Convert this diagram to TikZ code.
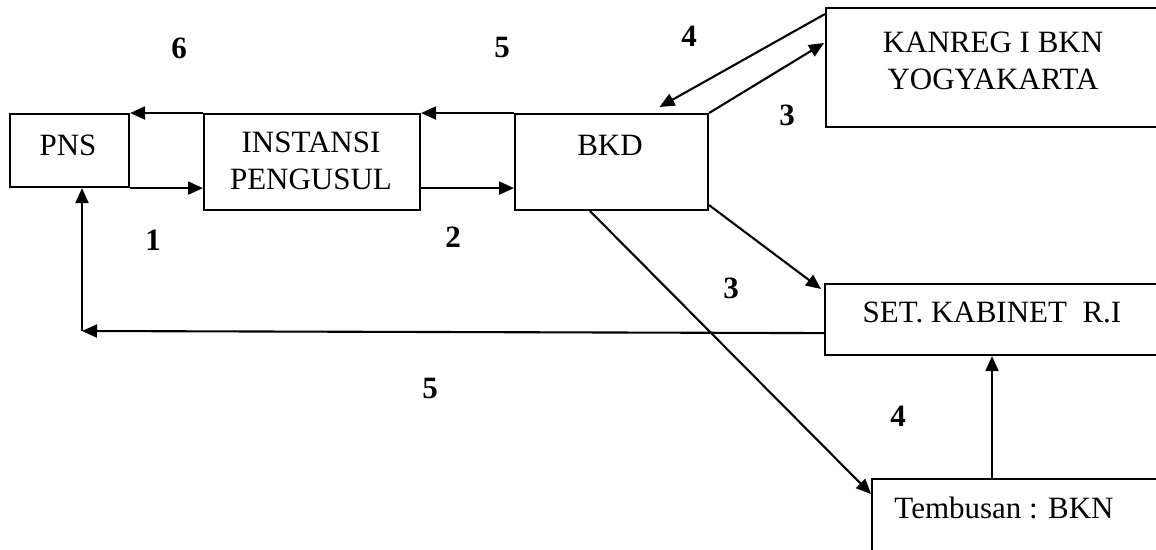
\documentclass[tikz,border=0pt]{standalone}
\usepackage{fontspec}
\setmainfont{Liberation Serif}
\usetikzlibrary{arrows.meta,calc}
\tikzset{
  box/.style={draw, line width=2.1pt, anchor=north west, inner sep=0pt},
  txt/.style={inner sep=0pt, align=center, font=\fontsize{31}{37}\selectfont},
  num/.style={inner sep=0pt, font=\fontsize{31}{37}\selectfont\bfseries},
  arr/.style={line width=2.1pt, -{Triangle[length=15pt,width=13pt]}}
}
\begin{document}
\begin{tikzpicture}[x=1pt,y=-1pt]
\useasboundingbox (0,0) rectangle (1156,549);
\clip (0,0) rectangle (1156,549);
\fill[white] (0,0) rectangle (1156,549);
% boxes
\node[box, minimum width=119pt, minimum height=73pt] (pns) at (9,113) {};
\node[box, minimum width=216pt, minimum height=96pt] (inst) at (203,113) {};
\node[box, minimum width=193pt, minimum height=96pt] (bkd) at (514,113) {};
\node[box, minimum width=340pt, minimum height=119pt] (kanreg) at (825,7) {};
\node[box, minimum width=340pt, minimum height=71pt] (set) at (824,283) {};
\node[box, minimum width=300pt, minimum height=100pt] (temb) at (871,478) {};
% texts
\node[txt] (pnsT) at (68,145) {PNS};
\node[txt] (instT) at (311,161) {INSTANSI\\PENGUSUL};
\node[txt] (bkdT) at (610,145) {BKD};
\node[txt] (kanregT) at (993,61) {KANREG I BKN\\YOGYAKARTA};
\node[txt] (setT) at (992,312) {SET. KABINET\ \ R.I};
\node[txt] (tembT) at (1004,508) {Tembusan : BKN};
% connectors
\draw[arr] (inst.north west) -- (pns.north east);
\draw[arr] (bkd.north west) -- (inst.north east);
\draw[arr] (pns.south east) -- (pns.south east -| inst.west);
\draw[arr] (pns.south east -| inst.east) -- (pns.south east -| bkd.west);
\draw[arr] ($(kanreg.north west)+(0,7)$) -- ($(bkd.north)+(48,-6)$);
\draw[arr] (bkd.north east) -- ($(kanreg.north west)+(-1,36)$);
\draw[arr] ($(bkd.south east)+(0,-6)$) -- ($(set.north west)+(-3,6)$);
\draw[arr] ($(bkd.south west)+(76,0)$) -- ($(temb.north west)+(0,16)$);
\draw[arr] ($(temb.north west)+(121,0)$) -- ($(set.south west)+(168,0)$);
\coordinate (corner) at (82,331);
\draw[arr] ($(set.south west)+(0,-23)$) -- (corner);
\draw[arr] (corner) -- (corner |- pns.south);
% numbers
\node[num] (n6) at (179,48) {6};
\node[num] (n5a) at (502,48) {5};
\node[num] (n4a) at (689,36) {4};
\node[num] (n3a) at (787,115) {3};
\node[num] (n1) at (153,240) {1};
\node[num] (n2) at (453,237) {2};
\node[num] (n3b) at (731,288) {3};
\node[num] (n4b) at (898,416) {4};
\node[num] (n5b) at (430,388) {5};
\end{tikzpicture}
\end{document}
